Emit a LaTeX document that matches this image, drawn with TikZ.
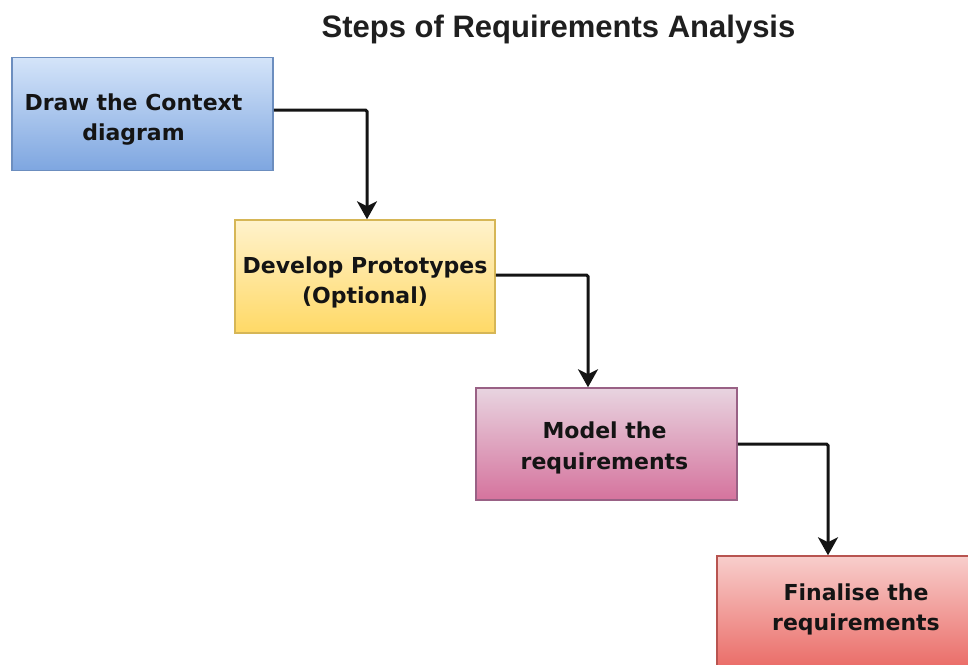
\documentclass[tikz,border=0pt]{standalone}
\usepackage{fontspec}
\setmainfont{Liberation Sans}
\newfontfamily\boxfont{DejaVu Sans}
\usetikzlibrary{arrows.meta}
\definecolor{bluetop}{HTML}{D4E4F9}
\definecolor{bluebot}{HTML}{7EA6E0}
\definecolor{blueline}{HTML}{6C8EBF}
\definecolor{yeltop}{HTML}{FFF2CC}
\definecolor{yelbot}{HTML}{FFD966}
\definecolor{yelline}{HTML}{D6B656}
\definecolor{pinktop}{HTML}{E8D4E0}
\definecolor{pinkbot}{HTML}{D5739D}
\definecolor{pinkline}{HTML}{996185}
\definecolor{redtop}{HTML}{F8CECC}
\definecolor{redbot}{HTML}{EA6B66}
\definecolor{redline}{HTML}{B85450}
\tikzset{
  stepbox/.style={rectangle, line width=1.5pt, minimum height=113pt, inner sep=0pt},
  steptext/.style={align=center, inner sep=0pt,
    font=\boxfont\bfseries\fontsize{22}{30.5}\selectfont, text=black!92},
  conn/.style={line width=3pt, black!92, rounded corners=1.5pt,
    -{Stealth[length=18pt,width=20pt,inset=5pt]}},
  titlestyle/.style={font=\bfseries\fontsize{31}{36}\selectfont, text=black!88, inner sep=0pt, anchor=base}
}
\begin{document}
\begin{tikzpicture}[x=1pt,y=-1pt]
\useasboundingbox (0,0) rectangle (968,664);
\clip (0,0) rectangle (968,664);
\fill[white] (0,0) rectangle (968,664);
\node[titlestyle] (title) at (558.5,37) {Steps of Requirements Analysis};
\node[stepbox, minimum width=261pt, draw=blueline, top color=bluetop, bottom color=bluebot] (b1) at (142.5,114) {};
\node[stepbox, minimum width=260pt, draw=yelline, top color=yeltop, bottom color=yelbot] (b2) at (365,276.5) {};
\node[stepbox, minimum width=261pt, minimum height=112pt, draw=pinkline, top color=pinktop, bottom color=pinkbot] (b3) at (606.5,444) {};
\node[stepbox, minimum width=273pt, draw=redline, top color=redtop, bottom color=redbot] (b4) at (853.5,612.5) {};
\node[steptext] (t1) at ([xshift=-9pt,yshift=-5.5pt]b1.center) {Draw the Context\\diagram};
\node[steptext] (t2) at ([yshift=-6pt]b2.center) {Develop Prototypes\\(Optional)};
\node[steptext] (t3) at ([xshift=-2pt,yshift=-4pt]b3.center) {Model the\\requirements};
\node[steptext] (t4) at ([xshift=2.5pt,yshift=3pt]b4.center) {Finalise the\\requirements};
\draw[conn] ([yshift=4pt]b1.east) -| ([xshift=2pt]b2.north);
\draw[conn] ([yshift=1.5pt]b2.east) -| ([xshift=-18.5pt]b3.north);
\draw[conn] (b3.east) -| ([xshift=-25.5pt]b4.north);
\end{tikzpicture}
\end{document}
